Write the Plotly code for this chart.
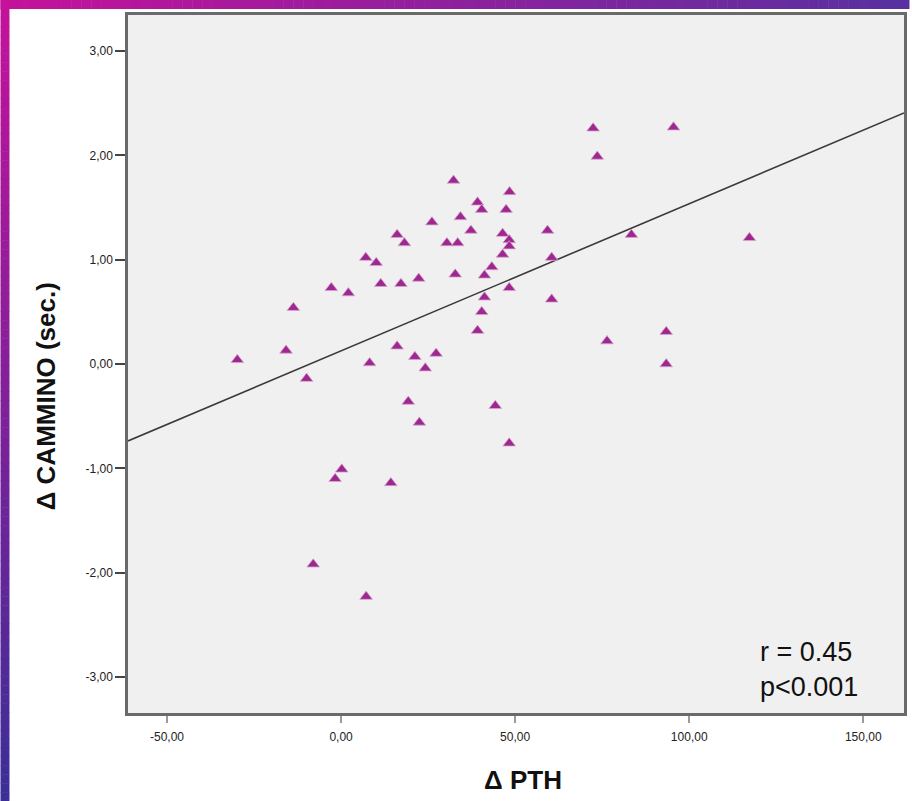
import numpy as np
import plotly.graph_objects as go

# Change in PTH (x) vs change in walking time (y), one point per patient
delta_pth = [-29.8, -15.8, -13.7, -9.9, -8.0, -2.8, -1.7, 0.2, 2.1, 7.1,
             7.2, 8.2, 10.1, 11.4, 14.3, 16.1, 16.1, 17.2, 18.2, 19.3,
             21.2, 22.3, 22.5, 24.2, 26.1, 27.3, 30.4, 32.3, 32.8, 33.5,
             34.3, 37.3, 39.2, 39.2, 40.4, 40.4, 41.2, 41.2, 43.3, 44.3,
             46.4, 46.4, 47.4, 48.3, 48.4, 48.3, 48.3, 48.3, 59.3, 60.5,
             60.5, 72.4, 73.6, 76.4, 83.4, 93.4, 93.4, 95.5, 117.3]
delta_cammino = [0.04, 0.13, 0.54, -0.14, -1.92, 0.73, -1.10, -1.01, 0.68, 1.02,
                 -2.23, 0.01, 0.97, 0.77, -1.14, 1.24, 0.17, 0.77, 1.16, -0.36,
                 0.07, 0.82, -0.56, -0.04, 1.36, 0.10, 1.16, 1.76, 0.86, 1.16,
                 1.41, 1.28, 1.55, 0.32, 1.48, 0.50, 0.85, 0.64, 0.93, -0.40,
                 1.05, 1.25, 1.48, 1.19, 1.65, 1.13, 0.73, -0.76, 1.28, 1.02,
                 0.62, 2.26, 1.99, 0.22, 1.24, 0.31, 0.00, 2.27, 1.21]

x_ticks = [-50, 0, 50, 100, 150]
y_ticks = [-3, -2, -1, 0, 1, 2, 3]
x_range = [-61.2, 161.7]
y_range = [-3.346, 3.346]
stats_text = "r = 0.45<br>p<0.001"


def fmt(v):
    # decimal comma, plain hyphen for negatives
    return f"{v:.2f}".replace(".", ",")


# Least-squares fit line across the whole x range
slope, intercept = np.polyfit(delta_pth, delta_cammino, 1)
fit_x = np.array(x_range)
fit_y = slope * fit_x + intercept

W, H = 912, 801
L, R, T, B = 128, 5, 15, 88

fig = go.Figure()
fig.add_trace(go.Scatter(
    x=fit_x, y=fit_y, mode="lines",
    line=dict(color="#3a3a3a", width=1.6),
    hoverinfo="skip", showlegend=False))
fig.add_trace(go.Scatter(
    x=delta_pth, y=delta_cammino, mode="markers",
    marker=dict(symbol="triangle-up", size=11, color="#9e2790",
                line=dict(color="#d7a6cf", width=0.8)),
    showlegend=False))

# Gradient frame along the top and left page edges
pw, ph = W - L - R, H - T - B


def px_to_paper_x(px):
    return (px - L) / pw


def px_to_paper_y(py):
    return (H - B - py) / ph


def mix(c1, c2, t):
    return "rgb({},{},{})".format(*[round(a + (b - a) * t) for a, b in zip(c1, c2)])


magenta = (196, 18, 154)
violet = (88, 48, 160)
indigo = (60, 46, 152)
shapes = []
n = 90
for i in range(n):
    x0, x1 = W * i / n, W * (i + 1) / n + 0.5
    shapes.append(dict(type="rect", xref="paper", yref="paper",
                       x0=px_to_paper_x(x0), x1=px_to_paper_x(x1),
                       y0=px_to_paper_y(9), y1=px_to_paper_y(0),
                       fillcolor=mix(magenta, violet, i / (n - 1)),
                       line=dict(width=0), layer="above"))
for i in range(n):
    y0, y1 = H * i / n, H * (i + 1) / n + 0.5
    shapes.append(dict(type="rect", xref="paper", yref="paper",
                       x0=px_to_paper_x(0), x1=px_to_paper_x(9),
                       y0=px_to_paper_y(y1), y1=px_to_paper_y(y0),
                       fillcolor=mix(magenta, indigo, i / (n - 1)),
                       line=dict(width=0), layer="above"))

tick_font = dict(family="Liberation Sans, Arial, sans-serif", size=12, color="#222222")
title_font = dict(family="Liberation Sans, Arial, sans-serif", size=26, color="#111111")

fig.update_layout(
    width=W, height=H,
    margin=dict(l=L, r=R, t=T, b=B, pad=0),
    paper_bgcolor="white", plot_bgcolor="#f0f0f0",
    shapes=shapes,
    xaxis=dict(range=x_range, tickvals=x_ticks, ticktext=[fmt(v) for v in x_ticks],
               showgrid=False, zeroline=False,
               showline=True, mirror=True, linecolor="#6a6a6a", linewidth=2.5,
               ticks="outside", ticklen=7, tickwidth=2, tickcolor="#9a9a9a",
               ticklabelstandoff=4, tickfont=tick_font),
    yaxis=dict(range=y_range, tickvals=y_ticks, ticktext=[fmt(v) for v in y_ticks],
               showgrid=False, zeroline=False,
               showline=True, mirror=True, linecolor="#6a6a6a", linewidth=2.5,
               ticks="outside", ticklen=10, tickwidth=2, tickcolor="#444444",
               tickfont=tick_font),
    annotations=[
        dict(text="<b>Δ PTH</b>", xref="paper", yref="paper",
             x=px_to_paper_x(525), y=px_to_paper_y(780),
             showarrow=False, xanchor="center", yanchor="middle", font=title_font),
        dict(text="<b>Δ CAMMINO (sec.)</b>", xref="paper", yref="paper",
             x=px_to_paper_x(46), y=px_to_paper_y(396), textangle=-90,
             showarrow=False, xanchor="center", yanchor="middle", font=title_font),
        dict(text=stats_text, xref="paper", yref="paper",
             x=px_to_paper_x(760), y=px_to_paper_y(669),
             showarrow=False, xanchor="left", yanchor="middle", align="left",
             font=dict(family="Liberation Sans, Arial, sans-serif", size=27, color="#111111")),
    ],
)

fig.write_html("out.html")
